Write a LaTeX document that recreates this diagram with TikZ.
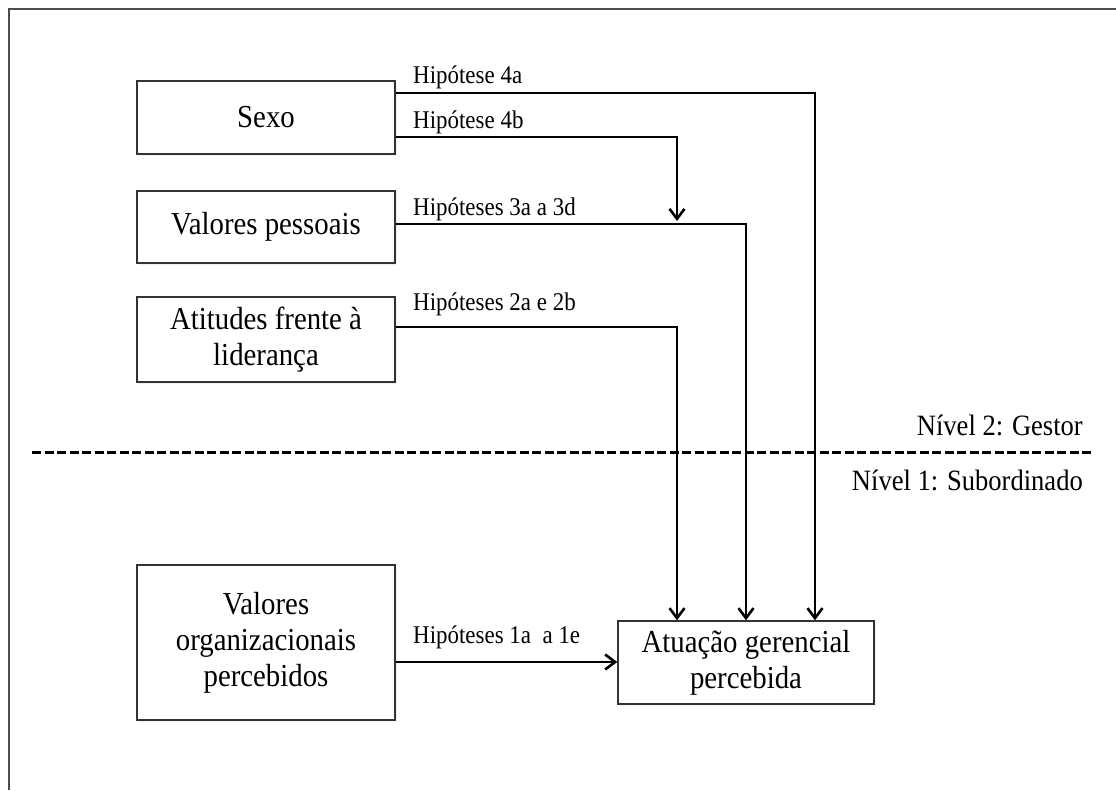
\documentclass[tikz,border=0pt]{standalone}
\usepackage{fontspec}
\setmainfont{Liberation Serif}[FakeStretch=0.9]
\usetikzlibrary{arrows.meta,shadows}
\begin{document}
\begin{tikzpicture}[x=1pt,y=-1pt,
  box/.style={draw=black!80,line width=1.4pt,fill=white,inner sep=0pt,align=center,
    font=\fontsize{32}{36}\selectfont,
    drop shadow={shadow xshift=1.5pt,shadow yshift=-2pt,opacity=0.12}},
  conn/.style={line width=2.2pt,black},
  arr/.style={conn,-{Straight Barb[length=10pt,width=15pt,line width=2.6pt]}},
  lbl/.style={anchor=base west,inner sep=0pt,font=\fontsize{25.5}{29}\selectfont},
  lvl/.style={anchor=base east,inner sep=0pt,font=\fontsize{29.5}{33}\selectfont}]
\useasboundingbox (0,0) rectangle (1116,790);
% frame
\draw[line width=1.5pt,black!70] (9,790) -- (9,9) -- (1116,9);
% boxes
\node[box,minimum width=258pt,minimum height=73pt] (sexo) at (266,117.5) {Sexo};
\node[box,minimum width=258pt,minimum height=72pt] (vp) at (266,227) {Valores pessoais};
\node[box,minimum width=258pt,minimum height=85pt] (at) at (266,339.5) {Atitudes frente à\\liderança};
\node[box,minimum width=258pt,minimum height=155pt] (vo) at (266,642.5) {Valores\\organizacionais\\percebidos};
\node[box,minimum width=256pt,minimum height=83pt] (atu) at (746,662.5) {Atuação gerencial\\percebida};
% helper coordinates
\coordinate (a1) at ([xshift=-69pt]atu.north);
\coordinate (a3) at ([xshift=69pt]atu.north);
\coordinate (m4b) at (677,221);
% connectors
\draw[arr] (sexo.east |- 0,93) -| (a3);
\draw[arr] (sexo.east |- 0,137) -| (m4b);
\draw[arr] (vp.east |- 0,224) -| (atu.north);
\draw[arr] (at.east |- 0,327) -| (a1);
\draw[arr] (vo.east |- 0,662) -- (atu.west |- 0,662);
% labels
\node[lbl] (l4a) at (413,83) {Hipótese 4a};
\node[lbl] (l4b) at (413,128) {Hipótese 4b};
\node[lbl] (l3) at (413,215) {Hipóteses 3a a 3d};
\node[lbl] (l2) at (413,310) {Hipóteses 2a e 2b};
\node[lbl] (l1) at (413,643) {Hipóteses 1a~~a 1e};
% level line
\draw[line width=3pt,dash pattern=on 9pt off 3.5pt] (32,452) -- (1093,452);
\node[lvl] (n2) at (1083,435) {Nível 2: Gestor};
\node[lvl] (n1) at (1083,490) {Nível 1: Subordinado};
\end{tikzpicture}
\end{document}
